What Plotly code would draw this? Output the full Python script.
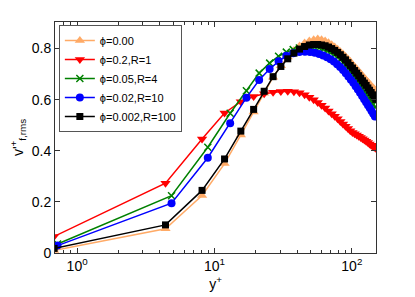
import plotly.graph_objects as go

# wall-normal grids (y+)
grid_a = [0.68, 4.40, 8.12, 11.84, 15.56, 19.28, 23.00, 26.72, 30.44, 34.16, 37.88,
          41.60, 45.32, 49.04, 52.76, 56.48, 60.20, 63.92, 67.64, 71.36, 75.08,
          78.80, 82.52, 86.24, 89.96, 93.68, 97.40, 101.12, 104.84, 108.56, 112.28,
          116.00, 119.72, 123.44, 127.16, 130.88, 134.60, 138.32, 142.04, 145.76, 149.48]
grid_b = [0.72, 4.87, 8.94, 13.01, 17.08, 21.15, 25.22, 29.29, 33.36, 37.43, 41.50,
          45.57, 49.64, 53.71, 57.78, 61.85, 65.92, 69.99, 74.06, 78.13, 82.20,
          86.27, 90.34, 94.41, 98.48, 102.55, 106.62, 110.69, 114.76, 118.83, 122.90,
          126.97, 131.04, 135.11, 139.18, 143.25, 147.32]

v_phi000 = [0.010, 0.095, 0.225, 0.350, 0.462, 0.552, 0.625, 0.688, 0.733, 0.767, 0.792,
            0.810, 0.822, 0.830, 0.835, 0.837, 0.835, 0.830, 0.823, 0.815, 0.806,
            0.797, 0.788, 0.779, 0.769, 0.759, 0.749, 0.739, 0.729, 0.720, 0.711,
            0.702, 0.693, 0.685, 0.677, 0.669, 0.662, 0.655, 0.648, 0.642, 0.636]
v_phi02 = [0.065, 0.273, 0.446, 0.548, 0.592, 0.612, 0.623, 0.629, 0.632, 0.633, 0.631,
           0.627, 0.619, 0.610, 0.600, 0.589, 0.578, 0.567, 0.556, 0.545, 0.535,
           0.525, 0.515, 0.505, 0.496, 0.487, 0.478, 0.472, 0.467, 0.462, 0.457,
           0.452, 0.447, 0.442, 0.437, 0.432, 0.427, 0.422, 0.418, 0.414, 0.410]
v_phi005 = [0.035, 0.224, 0.414, 0.547, 0.635, 0.704, 0.743, 0.770, 0.786, 0.796, 0.802,
            0.805, 0.806, 0.805, 0.802, 0.797, 0.791, 0.784, 0.776, 0.767, 0.757,
            0.746, 0.734, 0.722, 0.710, 0.697, 0.684, 0.671, 0.658, 0.645, 0.633,
            0.622, 0.611, 0.600, 0.590, 0.580, 0.571]
v_phi002 = [0.029, 0.195, 0.373, 0.508, 0.608, 0.677, 0.720, 0.750, 0.772, 0.782, 0.787,
            0.788, 0.787, 0.784, 0.779, 0.773, 0.766, 0.758, 0.749, 0.739, 0.728,
            0.716, 0.703, 0.691, 0.678, 0.666, 0.653, 0.640, 0.627, 0.614, 0.602,
            0.590, 0.578, 0.567, 0.556, 0.545, 0.534]
v_phi0002 = [0.018, 0.110, 0.245, 0.368, 0.477, 0.562, 0.633, 0.690, 0.730, 0.760, 0.782,
             0.798, 0.808, 0.814, 0.816, 0.816, 0.814, 0.811, 0.806, 0.800, 0.793,
             0.785, 0.776, 0.766, 0.756, 0.745, 0.734, 0.724, 0.714, 0.704, 0.694,
             0.684, 0.674, 0.665, 0.656, 0.646, 0.637, 0.628, 0.619, 0.610, 0.601]

series = [
    ("ϕ=0.00", grid_a, v_phi000, "#FFAA66", "triangle-up", 9),
    ("ϕ=0.2,R=1", grid_a, v_phi02, "#FF0000", "triangle-down", 9),
    ("ϕ=0.05,R=4", grid_b, v_phi005, "#008000", "x-thin", 7),
    ("ϕ=0.02,R=10", grid_b, v_phi002, "#0000FF", "circle", 8),
    ("ϕ=0.002,R=100", grid_a, v_phi0002, "#000000", "square", 7),
]

xticks = [1, 10, 100]
xticktext = ["10<sup>0</sup>", "10<sup>1</sup>", "10<sup>2</sup>"]
yticks = [0, 0.2, 0.4, 0.6, 0.8]
yticktext = ["0", "0.2", "0.4", "0.6", "0.8"]
minor_x = [0.7, 0.8, 0.9, 2, 3, 4, 5, 6, 7, 8, 9, 20, 30, 40, 50, 60, 70, 80, 90]

fig = go.Figure()
for name, xs, ys, col, sym, sz in series:
    fig.add_trace(go.Scatter(
        x=xs, y=ys, name=name, mode="lines+markers",
        line=dict(color=col, width=1.5),
        marker=dict(symbol=sym, size=sz, color=col,
                    line=dict(color=col, width=1.5 if sym == "x-thin" else 0)),
        cliponaxis=True,
    ))

axis_col = "#333333"
# the page body has an 8px margin, so the figure is drawn 8px smaller and shifted
fig.update_layout(
    template="none",
    width=407, height=289,
    margin=dict(l=47, r=39, t=14, b=44, autoexpand=False),
    paper_bgcolor="white", plot_bgcolor="white",
    font=dict(family="Liberation Sans, Arial, sans-serif", size=13, color="black"),
    showlegend=True,
    legend=dict(x=0.012, y=0.987, xanchor="left", yanchor="top",
                bgcolor="white", bordercolor="#555555", borderwidth=1,
                font=dict(size=11), tracegroupgap=0, itemwidth=30,
                traceorder="normal"),
    xaxis=dict(type="log", range=[-0.161, 2.176], automargin=False,
               tickvals=xticks, ticktext=xticktext,
               ticks="inside", ticklen=5, tickcolor=axis_col,
               showline=True, linecolor=axis_col, linewidth=1, mirror="ticks",
               showgrid=False, zeroline=False,
               minor=dict(tickvals=minor_x, ticks="inside", ticklen=3,
                          tickcolor=axis_col, showgrid=False),
               title=dict(text="y<sup>+</sup>", font=dict(size=14), standoff=2),
               tickfont=dict(size=14)),
    yaxis=dict(range=[0, 0.904], automargin=False,
               tickvals=yticks, ticktext=yticktext,
               ticks="inside", ticklen=5, tickcolor=axis_col,
               showline=True, linecolor=axis_col, linewidth=1, mirror="ticks",
               showgrid=False, zeroline=False,
               title=dict(text="v'<sup>+</sup><sub>f,rms</sub>", font=dict(size=14), standoff=6),
               tickfont=dict(size=14)),
)

fig.write_html("out.html")
